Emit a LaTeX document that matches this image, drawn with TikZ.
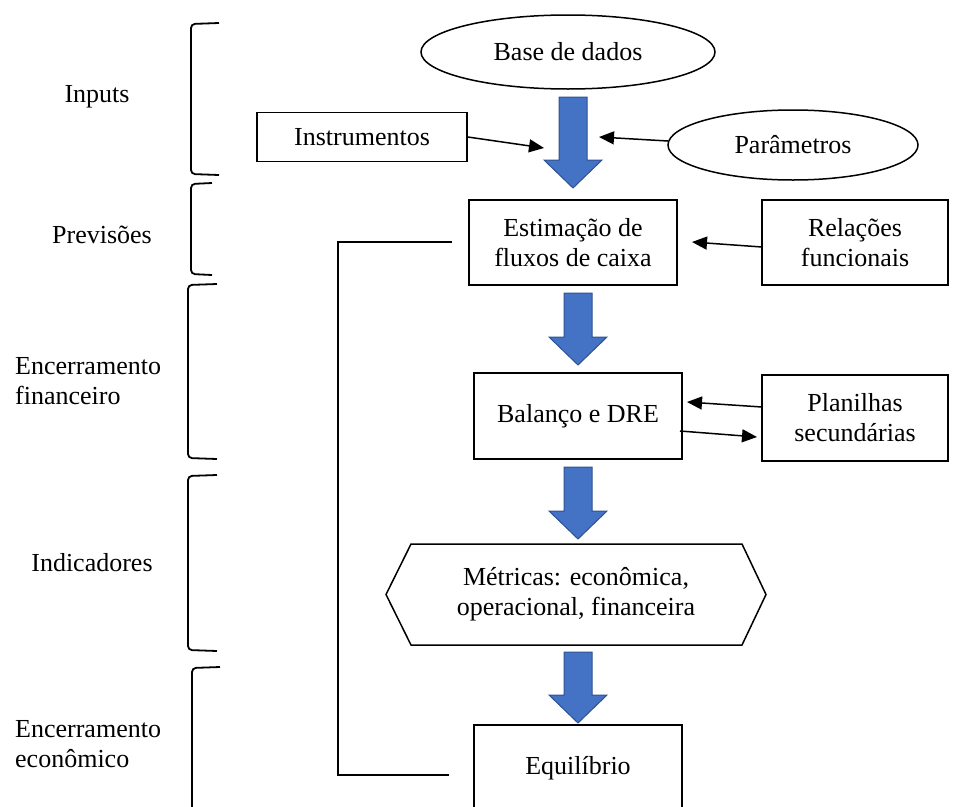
\documentclass[tikz,border=0pt]{standalone}
\usepackage{fontspec}
\setmainfont{Liberation Serif}
\usetikzlibrary{shapes.geometric,arrows.meta}
\definecolor{blk}{HTML}{4472C4}
\definecolor{blkedge}{HTML}{2F528F}
\tikzset{
  txt/.style={font=\fontsize{26}{30}\selectfont, align=center, inner sep=0pt},
  boxnode/.style={txt, draw, line width=1.5pt, rectangle},
  ellnode/.style={txt, draw, line width=1.5pt, ellipse},
  conn/.style={line width=1.5pt, -{Triangle[length=15pt,width=13pt]}},
  plainline/.style={line width=1.5pt},
  bracket/.style={line width=1.8pt, rounded corners=4pt},
  blockarrow/.style={fill=blk, draw=blkedge, line width=1pt, line join=miter},
  lbl/.style={font=\fontsize{26}{30}\selectfont, align=left, inner sep=0pt}
}
\newcommand{\blockarr}[4]{% cx, top, neck, tip
  \draw[blockarrow] (#1-14,#2) -- (#1+14,#2) -- (#1+14,#3) -- (#1+29,#3) -- (#1,#4) -- (#1-29,#3) -- (#1-14,#3) -- cycle;}
\begin{document}
\begin{tikzpicture}[x=1pt,y=-1pt]
\useasboundingbox (0,0) rectangle (961,806);
\clip (0,0) rectangle (961,806);

% left brackets
\draw[bracket] (219,23) -- (191,24) -- (191,174) -- (219,175);
\draw[bracket] (212,183) -- (191,184) -- (191,274) -- (212,275);
\draw[bracket] (217,284) -- (188,285) -- (188,458) -- (217,459);
\draw[bracket] (217,475) -- (188,476) -- (188,650) -- (217,651);
\draw[bracket] (220,667) -- (192,668) -- (192,830);

% left labels
\node[lbl] (linp) at (97,97) {Inputs};
\node[lbl] (lprev) at (102,235) {Previsões};
\node[lbl, anchor=west] (lfin) at (15,381) {Encerramento\\financeiro};
\node[lbl] (lind) at (92,563) {Indicadores};
\node[lbl, anchor=west] (leco) at (15,744) {Encerramento\\econômico};

% main nodes
\node[ellnode, minimum width=294, minimum height=74] (base) at (568,52) {Base de dados};
\node[boxnode, minimum width=210, minimum height=49] (instr) at (362,137) {Instrumentos};
\node[ellnode, minimum width=250, minimum height=70] (param) at (793,145) {Parâmetros};
\node[boxnode, minimum width=208, minimum height=85] (estim) at (573,242.5) {Estimação de\\fluxos de caixa};
\node[boxnode, minimum width=186, minimum height=85] (rel) at (855,242.5) {Relações\\funcionais};
\node[boxnode, minimum width=208, minimum height=86] (bal) at (578,416) {Balanço e DRE};
\node[boxnode, minimum width=186, minimum height=86] (plan) at (855,418) {Planilhas\\secundárias};

% hexagon
\draw[plainline, line join=miter] (386,594.5) -- (411,544) -- (742,544) -- (766,594.5) -- (742,645) -- (411,645) -- cycle;
\node[txt] (metr) at (576,594) {Métricas: econômica,\\operacional, financeira};

% equilibrio (box cut at bottom)
\draw[plainline] (474,840) -- (474,725) -- (682,725) -- (682,840);
\node[txt] (equil) at (578,768) {Equilíbrio};

% block arrows
\blockarr{573}{97}{160}{188}
\blockarr{578}{293}{337}{365}
\blockarr{578}{467}{511}{539}
\blockarr{578}{652}{695}{723}

% connector end points
\coordinate (instrtip) at (544,148);
\coordinate (paramtip) at (599,137);
\coordinate (relstart) at (762,247);
\coordinate (reltip) at (692,242);
\coordinate (planstart) at (762,407);
\coordinate (plantip) at (687,402);
\coordinate (balstart) at (680,431);
\coordinate (baltip) at (757,437);
\coordinate (paramstart) at (668,141);
\coordinate (fbA) at (449,775);
\coordinate (fbB) at (338,775);
\coordinate (fbC) at (338,242);
\coordinate (fbD) at (452,242);

\draw[conn] (instr.east) -- (instrtip);
\draw[conn] (paramstart) -- (paramtip);
\draw[conn] (relstart) -- (reltip);
\draw[conn] (planstart) -- (plantip);
\draw[conn] (balstart) -- (baltip);
\draw[plainline] (fbA) -- (fbB) -- (fbC) -- (fbD);
\end{tikzpicture}
\end{document}
